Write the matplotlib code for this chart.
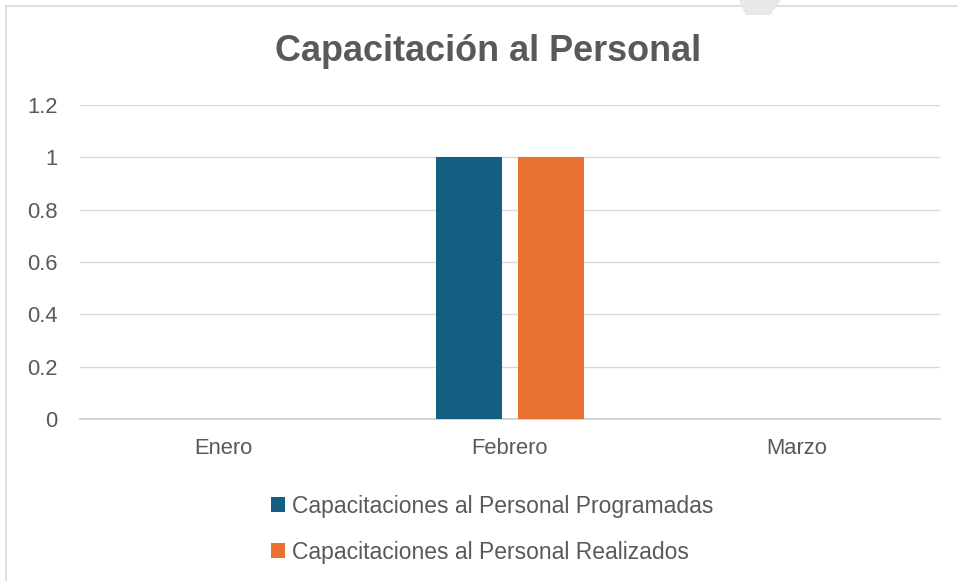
import matplotlib
matplotlib.use("Agg")
import matplotlib.pyplot as plt
import numpy as np
from matplotlib.patches import Rectangle, Polygon

categories = ["Enero", "Febrero", "Marzo"]
programadas = [0, 1, 0]
realizados = [0, 1, 0]
series_names = ["Capacitaciones al Personal Programadas",
                "Capacitaciones al Personal Realizados"]
yticks = [0, 0.2, 0.4, 0.6, 0.8, 1, 1.2]
ytick_labels = ["0", "0.2", "0.4", "0.6", "0.8", "1", "1.2"]
title = "Capacitación al Personal"

plt.rcParams['font.family'] = ['Liberation Sans', 'DejaVu Sans']
W, H = 958, 581
fig = plt.figure(figsize=(W/100, H/100), dpi=100)
fig.patch.set_facecolor("white")

# chart frame (left and top edges visible)
fig.patches.append(Rectangle((6/W, -0.05), 1.1, 1 - 6/H + 0.05, transform=fig.transFigure,
                             fill=False, edgecolor="#D9D9D9", linewidth=1.2))
# grey artifact at top
fig.patches.append(Polygon([(739/W, 1), (781/W, 1), (770/W, 1-15/H), (746/W, 1-15/H)],
                           closed=True, transform=fig.transFigure,
                           facecolor="#E8E8E8", edgecolor="none"))

ax = fig.add_axes([80/W, 1-419/H, 860/W, (419-105)/H])
x = np.arange(len(categories))
bw = 0.227
off = 0.143
b1 = ax.bar(x - off, programadas, bw, color="#156082", label=series_names[0], zorder=3)
b2 = ax.bar(x + off, realizados, bw, color="#E97132", label=series_names[1], zorder=3)

ax.set_xlim(-0.5, 2.5)
ax.set_ylim(0, 1.2)
ax.set_yticks(yticks)
ax.set_yticklabels(ytick_labels)
ax.set_xticks(x)
ax.set_xticklabels(categories)
ax.grid(axis="y", color="#D9D9D9", linewidth=1, zorder=0)
ax.set_axisbelow(True)
for s in ["top", "right", "left"]:
    ax.spines[s].set_visible(False)
ax.spines["bottom"].set_color("#D0D0D0")
ax.spines["bottom"].set_linewidth(1.3)
ax.tick_params(axis="both", length=0, labelsize=15.8, labelcolor="#595959")
ax.tick_params(axis="y", pad=16)
ax.tick_params(axis="x", pad=14)

fig.text(488/W, 1-61/H, title, ha="center", va="baseline", fontsize=25.9,
         fontweight="bold", color="#595959")

leg = fig.legend(handles=[b1, b2], labels=series_names, loc="upper center",
                 bbox_to_anchor=(492.5/W, 1-494.5/H), ncol=1, frameon=False,
                 fontsize=16.5, labelcolor="#595959", handlelength=0.61,
                 handleheight=0.61, handletextpad=0.31, labelspacing=1.01,
                 borderpad=0, borderaxespad=0)

fig.savefig("out.png", dpi=100, facecolor="white")
